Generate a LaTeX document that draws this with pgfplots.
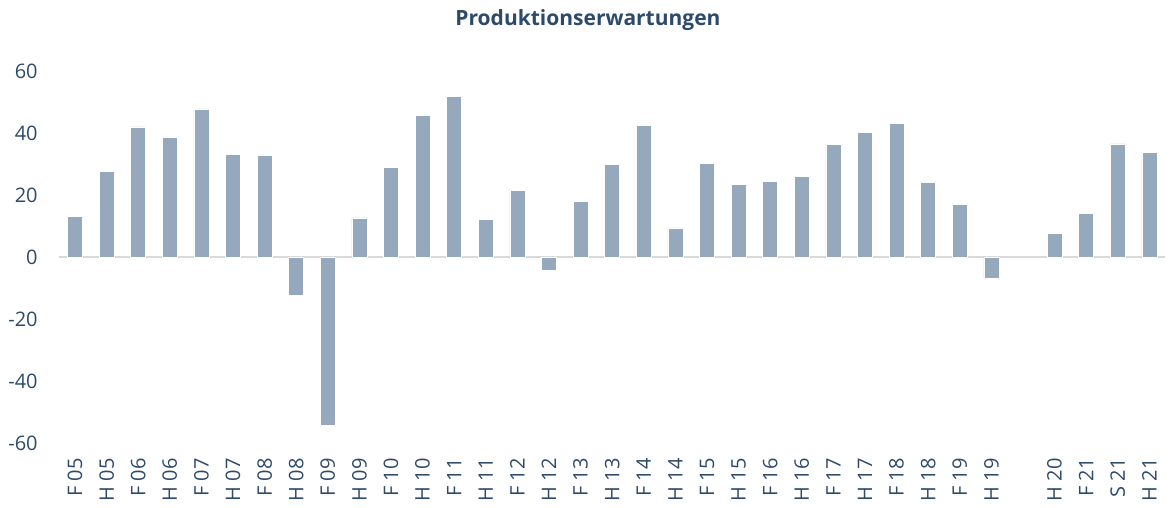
\documentclass[border=0pt]{standalone}
\usepackage{fontspec}
\setmainfont{Open Sans}
\usepackage{pgfplots}
\pgfplotsset{compat=1.18}
\definecolor{barc}{HTML}{95A8BC}
\definecolor{txt}{HTML}{2E4A6A}
\definecolor{zl}{HTML}{D9D9D9}
\begin{document}
\begin{tikzpicture}[x=1pt,y=1pt]
\useasboundingbox (0,0) rectangle (1171,507);
\node[font=\fontsize{21}{25}\selectfont\bfseries, text=txt] at (588,487) {Produktionserwartungen};
\begin{axis}[
  at={(59.2pt,64pt)}, anchor=south west,
  scale only axis, width=1106pt, height=372pt,
  xmin=-0.5, xmax=34.5, ymin=-60, ymax=60,
  ytick={-60,-40,...,60},
  xtick={0,...,34},
  xticklabels={F 05,H 05,F 06,H 06,F 07,H 07,F 08,H 08,F 09,H 09,F 10,H 10,F 11,H 11,F 12,H 12,F 13,H 13,F 14,H 14,F 15,H 15,F 16,H 16,F 17,H 17,F 18,H 18,F 19,H 19,,H 20,F 21,S 21,H 21},
  axis line style={draw=none},
  major tick length=0pt,
  /pgf/number format/assume math mode=true,
  ticklabel style={font=\fontsize{20}{24}\selectfont, text=txt},
  yticklabel style={anchor=east, xshift=-18pt},
  xticklabel style={rotate=90, anchor=east, inner sep=0pt, xshift=-15pt, yshift=0pt},
  ybar, bar width=15pt,
]
\draw[zl, line width=1.6pt] (axis cs:-0.5,0) -- (axis cs:34.5,0);
\addplot[fill=barc, draw=white, line width=0.6pt] coordinates {
(0,13.2) (1,27.7) (2,42.0) (3,38.5) (4,47.8) (5,33.0) (6,32.8) (7,-12.4) (8,-54.2) (9,12.6)
(10,28.8) (11,45.7) (12,51.8) (13,12.1) (14,21.6) (15,-4.2) (16,18.0) (17,30.0) (18,42.5) (19,9.4)
(20,30.2) (21,23.5) (22,24.4) (23,25.9) (24,36.3) (25,40.2) (26,43.0) (27,24.1) (28,17.0) (29,-6.8)
(31,7.7) (32,14.1) (33,36.5) (34,33.7)
};
\end{axis}
\end{tikzpicture}
\end{document}
